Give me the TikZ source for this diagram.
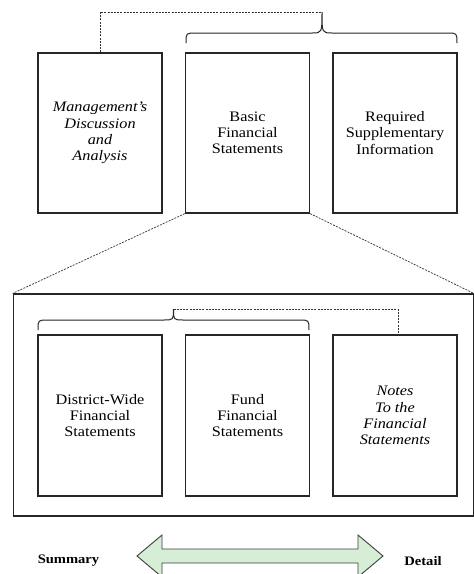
\documentclass[tikz,border=0pt]{standalone}
\usepackage{fontspec}
\setmainfont{Liberation Serif}[FakeStretch=1.12]
\begin{document}
\begin{tikzpicture}[x=1pt,y=-1pt,
  box/.style={draw=black!85,line width=1.2pt,minimum width=124pt,minimum height=160pt,inner sep=0pt,align=center,
    font=\fontsize{14.5}{16.2}\selectfont},
  dashline/.style={draw=black!80,line width=0.7pt,dash pattern=on 2pt off 1.2pt},
  bracestyle/.style={draw=black!85,line width=1pt},
  lbl/.style={font=\fontsize{13}{15}\selectfont\bfseries,inner sep=0pt}]
\clip (0,0) rectangle (474,574);
\fill[white] (0,0) rectangle (474,574);
% top row
\node[box] (mda) at (100,133) {\itshape Management's\\\itshape Discussion\\\itshape and\\\itshape Analysis};
\node[box] (bfs) at (247.5,133) {Basic\\Financial\\Statements};
\node[box] (rsi) at (395,133) {Required\\Supplementary\\Information};
% top brace
\coordinate (ttip) at (322,12);
\path[bracestyle] (186,43) .. controls (186,33) .. (196,33) -- (312,33) .. controls (322,33) .. (322,12)
  .. controls (322,33) .. (332,33) -- (447,33) .. controls (457,33) .. (457,43);
\draw[dashline] (mda.north) |- (ttip);
% big box
\node[draw=black!85,line width=1.2pt,minimum width=460pt,minimum height=222pt,inner sep=0pt] (big) at (243.2,405) {};
\draw[dashline] (bfs.south west) -- (big.north west);
\draw[dashline] (bfs.south east) -- (big.north east);
% lower row
\node[box,minimum height=161pt] (dw) at (100,415.5) {District-Wide\\Financial\\Statements};
\node[box,minimum height=161pt] (fund) at (247.5,415.5) {Fund\\Financial\\Statements};
\node[box,minimum height=161pt] (notes) at (395,415.5) {\itshape Notes\\\itshape To the\\\itshape Financial\\\itshape Statements};
\coordinate (itip) at (173.5,309);
\path[bracestyle] (38,330) .. controls (38,320) .. (48,320) -- (163.5,320) .. controls (173.5,320) .. (173.5,309)
  .. controls (173.5,320) .. (183.5,320) -- (299,320) .. controls (309,320) .. (309,330);
\draw[dashline] (itip) -| ([xshift=3pt]notes.north);
% arrow
\filldraw[fill=green!55!black!16,draw=black!75,line width=0.9pt,line join=miter]
  (137,556) -- (162,535) -- (162,549) -- (358,549) -- (358,535) -- (383,556) -- (358,577) -- (358,563)
  -- (162,563) -- (162,577) -- cycle;
\node[lbl] (sum) at (68.5,561) {Summary};
\node[lbl] (det) at (423,561) {Detail};
\end{tikzpicture}
\end{document}
